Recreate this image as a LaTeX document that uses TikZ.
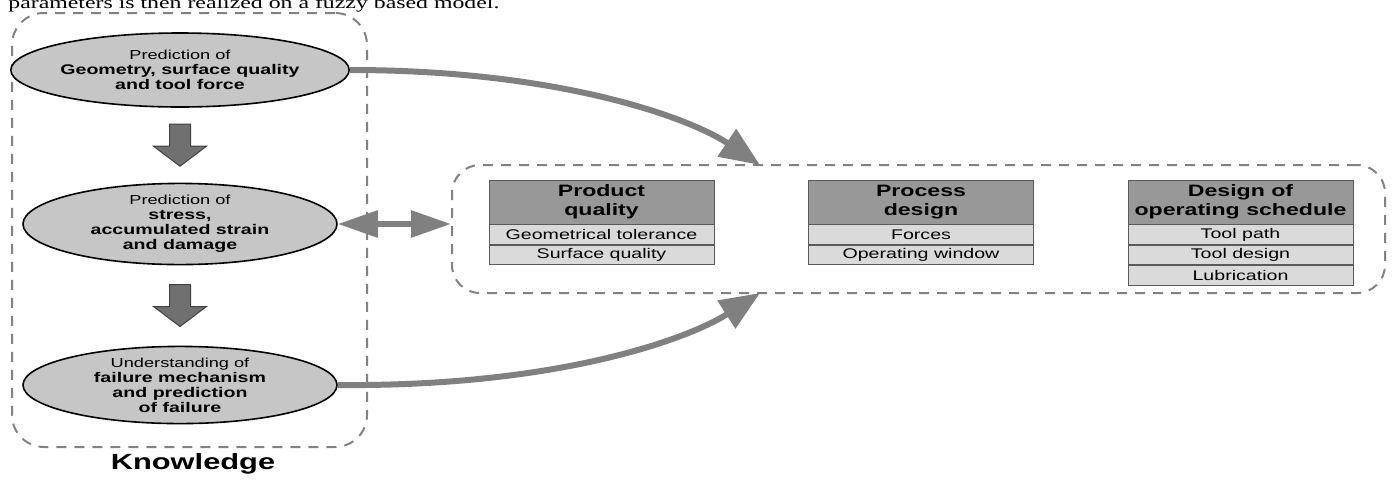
\documentclass[tikz,border=0pt]{standalone}
\usepackage{fontspec}
\setmainfont{Liberation Sans}[FakeStretch=1.4]
\newfontfamily\bodyserif{Liberation Serif}[FakeStretch=1.4]
\usetikzlibrary{positioning,shapes.geometric,arrows.meta}
\definecolor{ellipsegray}{RGB}{198,198,198}
\definecolor{dashgray}{RGB}{130,130,130}
\definecolor{headgray}{RGB}{152,152,152}
\definecolor{rowgray}{RGB}{218,218,218}
\definecolor{rulegray}{RGB}{90,90,90}
\definecolor{arrowgray}{RGB}{128,128,128}
\definecolor{blockgray}{RGB}{112,112,112}

\begin{document}
\begin{tikzpicture}[
    x=0.5pt, y=0.5pt,
    stage/.style={%
      draw,
      ellipse,
      fill=ellipsegray,
      line width=0.8pt,
      minimum width=157pt,
      minimum height=37pt,
      inner sep=0pt,
      align=center,
      font=\fontsize{7}{7.5}\selectfont\bfseries,
    },
    group/.style={%
      draw=dashgray,
      line width=1pt,
      dash pattern=on 5pt off 4pt,
      rounded corners=16pt,
      inner sep=0pt,
    },
    head/.style={%
      draw=rulegray,
      fill=headgray,
      minimum width=112.5pt,
      minimum height=22pt,
      inner sep=0pt,
      align=center,
      font=\fontsize{8.25}{9.5}\selectfont\bfseries,
    },
    row/.style={%
      draw=rulegray,
      fill=rowgray,
      minimum width=112.5pt,
      minimum height=9.75pt,
      inner sep=0pt,
      font=\fontsize{7}{8}\selectfont,
    },
    flow/.style={%
      draw=arrowgray,
      line width=3pt,
      -{Triangle[length=20pt,width=16pt]},
    },
    blockarrow/.style={%
      fill=blockgray,
      draw=black!75,
      line width=0.5pt,
    },
  ]

    \useasboundingbox (0,0) rectangle (1394,-483);
    \clip (0,0) rectangle (1394,-483);

    \node [anchor=base west, inner sep=0pt] (caption) at (8,-8)
      {\bodyserif\fontsize{8.5}{10}\selectfont parameters is then realized on a fuzzy based model.};

    % knowledge side
    \node [group, minimum width=177.5pt, minimum height=217pt] (knowbox) at (189.5,-230) {};
    \node [font=\fontsize{11}{13}\selectfont\bfseries] (knowlabel) at (193,-464) {Knowledge};

    \node [stage] (E1) at (180,-70)
      {{\mdseries\fontsize{6.5}{7.5}\selectfont Prediction of}\\Geometry, surface quality\\and tool force};
    \node [stage, minimum height=39pt] (E2) at (180,-224)
      {{\mdseries\fontsize{6.5}{7.5}\selectfont Prediction of}\\stress,\\accumulated strain\\and damage};
    \node [stage, minimum height=38pt] (E3) at (180,-385)
      {{\mdseries\fontsize{6.5}{7.5}\selectfont Understanding of}\\failure mechanism\\and prediction\\of failure};

    \path (E1.south) -- (E2.north) coordinate [midway] (d1);
    \path (E2.south) -- (E3.north) coordinate [midway] (d2);
    \foreach \d in {d1,d2}
      \filldraw [blockarrow] (\d) ++(-10.5,21) -- ++(21,0) -- ++(0,-22) -- ++(16,0)
        -- ++(-26.5,-20) -- ++(-26.5,20) -- ++(16,0) -- cycle;

    % results side
    \node [group, rounded corners=14pt, minimum width=466.5pt, minimum height=64pt] (results) at (918.5,-229) {};

    \node [head] (H1) at (601.5,-202) {Product\\quality};
    \node [row, below=0pt of H1] (H1a) {Geometrical tolerance};
    \node [row, below=0pt of H1a] (H1b) {Surface quality};

    \node [head] (H2) at (921,-202) {Process\\design};
    \node [row, below=0pt of H2] (H2a) {Forces};
    \node [row, below=0pt of H2a] (H2b) {Operating window};

    \node [head] (H3) at (1240.5,-202) {Design of\\operating schedule};
    \node [row, below=0pt of H3] (H3a) {Tool path};
    \node [row, below=0pt of H3a] (H3b) {Tool design};
    \node [row, below=0pt of H3b] (H3c) {Lubrication};

    \coordinate (tipA) at (760,-165);
    \coordinate (tipB) at (760,-293);

    \draw [flow] (E1.east) .. controls (560,-70) and (690,-118) .. (tipA);
    \draw [flow] (E3.east) .. controls (560,-387) and (690,-338) .. (tipB);
    \draw [flow, {Triangle[length=20pt,width=13pt]}-{Triangle[length=20pt,width=13pt]}]
      (E2.east) -- (results.west |- E2.east);

\end{tikzpicture}
\end{document}
